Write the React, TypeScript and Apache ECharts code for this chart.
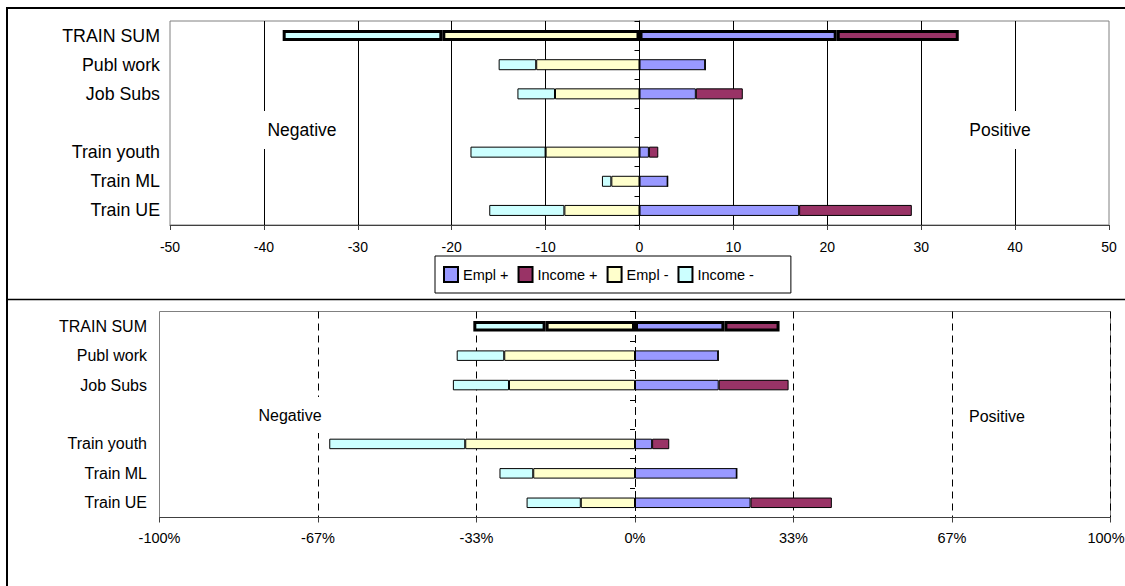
import React, { useEffect, useRef } from "react";
import * as echarts from "echarts";

// Programme rows (top to bottom); the empty string is a spacer row.
const categories = ["TRAIN SUM", "Publ work", "Job Subs", "", "Train youth", "Train ML", "Train UE"];

// Effects counted per programme (upper panel).
const countEmplPos = [21, 7, 6, null, 1, 3, 17];
const countIncomePos = [13, 0, 5, null, 1, 0, 12];
const countEmplNeg = [-21, -11, -9, null, -10, -3, -8];
const countIncomeNeg = [-17, -4, -4, null, -8, -1, -8];

// Same effects as share of the programme total (lower panel).
const shareEmplPos = [0.188, 0.175, 0.176, null, 0.036, 0.214, 0.243];
const shareIncomePos = [0.116, 0, 0.147, null, 0.036, 0, 0.171];
const shareEmplNeg = [-0.188, -0.275, -0.265, null, -0.357, -0.214, -0.114];
const shareIncomeNeg = [-0.152, -0.1, -0.118, null, -0.286, -0.071, -0.114];

const seriesNames = ["Empl +", "Income +", "Empl -", "Income -"];
const seriesColors = ["#9999FF", "#993366", "#FFFFCC", "#CCFFFF"];

const countTicks = { min: -50, max: 50, interval: 10 };
const shareTicks = { min: -1, max: 1, interval: 1 / 3 };

const FONT = "'Liberation Sans', Arial, Helvetica, sans-serif";

export default function App() {
  const ref = useRef<HTMLDivElement | null>(null);

  useEffect(() => {
    if (!ref.current) return;
    const chart = echarts.init(ref.current, undefined, { renderer: "svg" });

    const W = 1125;
    const top = { left: 170, right: 16, top: 21, height: 204 };
    const bot = { left: 159.5, right: 14.5, top: 311.5, height: 206 };
    const topHalf = (W - top.left - top.right) / 2;
    const botHalf = (W - bot.left - bot.right) / 2;

    const makeBar = (
      name: string,
      data: (number | null)[],
      panel: number,
      color: string
    ) => ({
      type: "bar",
      name,
      stack: "panel" + panel,
      xAxisIndex: panel,
      yAxisIndex: panel * 2,
      barWidth: panel === 0 ? 11 : 10.5,
      itemStyle: { color, borderColor: "#000", borderWidth: 1 },
      data: data.map((v, i) =>
        i === 0 && v !== null ? { value: v, itemStyle: { borderWidth: 3 } } : v
      ),
    });

    const topSets = [countEmplPos, countIncomePos, countEmplNeg, countIncomeNeg];
    const botSets = [shareEmplPos, shareIncomePos, shareEmplNeg, shareIncomeNeg];

    const series = [
      ...topSets.map((d, k) => makeBar(seriesNames[k], d, 0, seriesColors[k])),
      ...botSets.map((d, k) => makeBar(seriesNames[k], d, 1, seriesColors[k])),
    ];

    const labelAxis = (gridIndex: number, fontSize: number, margin: number) => ({
      gridIndex,
      type: "category",
      data: categories,
      inverse: true,
      axisLine: { show: false, onZero: false },
      axisTick: { show: false },
      splitLine: { show: false },
      axisLabel: { fontSize, color: "#000", margin, fontFamily: FONT },
    });

    const centerAxis = (gridIndex: number, offset: number, dashed: boolean) => ({
      gridIndex,
      type: "category",
      data: categories,
      inverse: true,
      position: "left",
      offset: -offset,
      axisLine: {
        show: true,
        onZero: false,
        lineStyle: { color: "#000", width: 1, type: dashed ? [7, 5] : "solid" },
      },
      axisTick: { show: true, length: 5, lineStyle: { color: "#000" } },
      axisLabel: { show: false },
      splitLine: { show: false },
    });

    const labelStyle = (fontSize: number) => ({
      fontSize,
      fontFamily: FONT,
      fill: "#000",
      backgroundColor: "#fff",
      padding: [10, 8],
      align: "center",
      verticalAlign: "middle",
      textAlign: "center",
      textVerticalAlign: "middle",
    });

    chart.setOption({
      animation: false,
      textStyle: { fontFamily: FONT },
      grid: [
        { ...top, show: true, borderColor: "#808080", borderWidth: 1, outerBoundsMode: "none", containLabel: false },
        { ...bot, show: true, borderColor: "#808080", borderWidth: 1, outerBoundsMode: "none", containLabel: false },
      ],
      xAxis: [
        {
          gridIndex: 0,
          type: "value",
          ...countTicks,
          axisLine: { show: true, onZero: false, lineStyle: { color: "#404040" } },
          axisTick: { show: true, length: 5, lineStyle: { color: "#404040" } },
          axisLabel: { fontSize: 14, color: "#000", margin: 15, fontFamily: FONT },
          splitLine: {
            show: true,
            showMinLine: false,
            showMaxLine: false,
            lineStyle: { color: "#000", width: 1 },
          },
        },
        {
          gridIndex: 1,
          type: "value",
          ...shareTicks,
          axisLine: { show: true, onZero: false, lineStyle: { color: "#404040" } },
          axisTick: { show: true, length: 5, lineStyle: { color: "#404040" } },
          axisLabel: {
            fontSize: 14.5,
            color: "#000",
            margin: 13,
            fontFamily: FONT,
            // the right-most label is nudged inwards so it stays on the page
            formatter: (v: number) => {
              const t = Math.round(v * 100) + "%";
              return v > 0.99 ? "{edge|" + t + "}" : t;
            },
            rich: {
              edge: { fontSize: 14.5, fontFamily: FONT, color: "#000", padding: [0, 9, 0, 0] },
            },
          },
          splitLine: {
            show: true,
            showMinLine: false,
            showMaxLine: false,
            lineStyle: { color: "#000", width: 1, type: [7, 5] },
          },
        },
      ],
      yAxis: [
        labelAxis(0, 17.8, 10),
        centerAxis(0, topHalf, false),
        labelAxis(1, 16, 12.5),
        centerAxis(1, botHalf, true),
      ],
      legend: {
        data: seriesNames,
        left: 435,
        top: 256,
        orient: "horizontal",
        itemWidth: 14,
        itemHeight: 15,
        itemGap: 9,
        padding: [10, 37, 10, 8],
        borderColor: "#000",
        borderWidth: 1,
        icon: "rect",
        textStyle: { fontSize: 14.5, color: "#000", fontFamily: FONT },
      },
      series,
      graphic: [
        {
          type: "polyline",
          shape: { points: [[1125, 8], [7, 8], [7, 586]] },
          style: { stroke: "#000", lineWidth: 2, fill: null },
          z: 50,
        },
        {
          type: "line",
          shape: { x1: 7, y1: 299.5, x2: 1125, y2: 299.5 },
          style: { stroke: "#000", lineWidth: 1.5 },
          z: 50,
        },
        { type: "text", x: 302, y: 130, z: 100, style: { text: "Negative", ...labelStyle(17.5) } },
        { type: "text", x: 1000, y: 130, z: 100, style: { text: "Positive", ...labelStyle(17.5) } },
        { type: "text", x: 290, y: 415, z: 100, style: { text: "Negative", ...labelStyle(16) } },
        { type: "text", x: 997, y: 416, z: 100, style: { text: "Positive", ...labelStyle(16) } },
      ],
    });

    return () => chart.dispose();
  }, []);

  return (
    <div
      ref={ref}
      style={{ position: "absolute", left: 0, top: 0, width: 1125, height: 586, background: "#fff" }}
    />
  );
}
